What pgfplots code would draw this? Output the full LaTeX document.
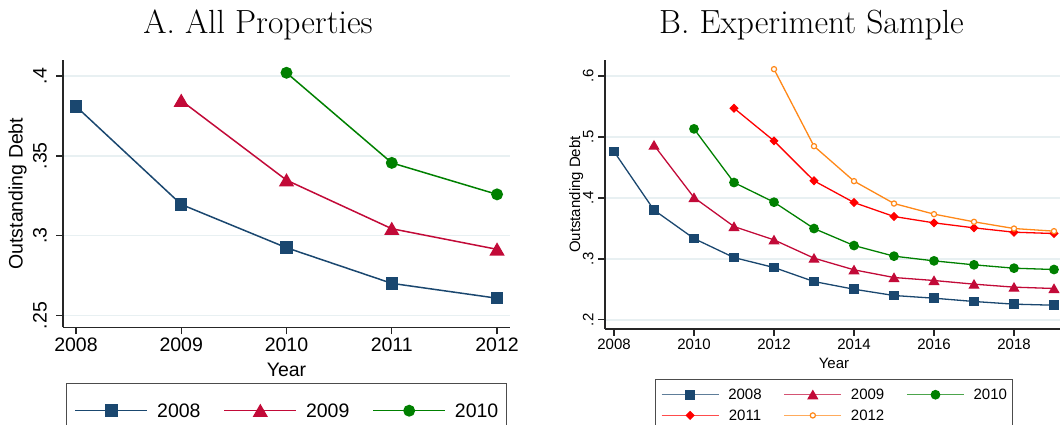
\documentclass[border=0pt]{standalone}
\usepackage{pgfplots}
\pgfplotsset{compat=1.18}
\usepackage{fontspec}
\newfontfamily\arial{Liberation Sans}
\definecolor{snavy}{RGB}{26,71,111}
\definecolor{scran}{RGB}{194,10,56}
\definecolor{sgreen}{RGB}{0,128,0}
\definecolor{sred}{RGB}{255,0,0}
\definecolor{sorange}{RGB}{255,136,24}
\definecolor{gridc}{RGB}{232,240,242}
\newcommand\fA{\arial\fontsize{19.5}{23}\selectfont}
\newcommand\fB{\arial\fontsize{15}{18}\selectfont}
\pgfplotsset{
  stata/.style={
    scale only axis, clip=false,
    axis x line*=bottom, axis y line*=left,
    axis line style={black!85, line width=1.3pt},
    tick align=outside, major tick length=7pt,
    tick style={black!85, line width=1.3pt},
    ymajorgrids, grid style={gridc, line width=1.5pt},
    yticklabel style={rotate=90, anchor=base},
    xticklabel style={anchor=base},
    ylabel style={anchor=base},
    xlabel style={anchor=base},
  }
}
\begin{document}
\begin{tikzpicture}
\useasboundingbox (0,0) rectangle (1060pt,425pt);
\clip (0,0) rectangle (1060pt,425pt);
\node[font=\fontsize{33.5}{40}\selectfont, anchor=base] at (258pt,391.7pt) {A. All Properties};
\node[font=\fontsize{33.5}{40}\selectfont, anchor=base] at (811.5pt,391.7pt) {B. Experiment Sample};

% ---------------- Panel A
\begin{axis}[stata,
  at={(63pt,97.7pt)}, anchor=south west,
  width=447pt, height=267.3pt,
  xmin=2007.877, xmax=2012.123, ymin=0.2427, ymax=0.41,
  xtick={2008,2009,2010,2011,2012},
  xticklabels={2008,2009,2010,2011,2012},
  ytick={0.25,0.3,0.35,0.4},
  yticklabels={.25,.3,.35,.4},
  ticklabel style={font=\fA},
  xticklabel style={yshift=-17.7pt},
  yticklabel style={yshift=9.3pt},
  xlabel={Year}, ylabel={Outstanding Debt},
  label style={font=\fA},
  xlabel style={at={(axis description cs:0.5,-0.1822)}},
  ylabel style={at={(axis description cs:-0.0904,0.5)}},
  legend image code/.code={\draw[#1, mark=none] (0pt,0pt) -- (72pt,0pt); \draw[#1] plot coordinates {(36pt,0pt)};},
  legend style={at={(axis description cs:0.5,-0.2073)}, anchor=north,
    legend columns=3, draw=black!70, line width=1pt,
    inner xsep=8pt, inner ysep=20.7pt, font=\fA,
    nodes={inner sep=0pt, text depth=0pt},
    /tikz/every odd column/.append style={column sep=9pt},
    /tikz/every even column/.append style={column sep=23pt}},
]
\addplot[snavy, line width=1.5pt, mark=square*, mark size=5.5pt, mark options={solid}]
  coordinates {(2008,0.381)(2009,0.3196)(2010,0.2925)(2011,0.2702)(2012,0.2609)};
\addlegendentry{2008}
\addplot[scran, line width=1.5pt, mark=triangle*, mark size=7.3pt, mark options={solid, yshift=-1.8pt}]
  coordinates {(2009,0.3846)(2010,0.3348)(2011,0.3044)(2012,0.2915)};
\addlegendentry{2009}
\addplot[sgreen, line width=1.5pt, mark=*, mark size=5.2pt, mark options={solid}]
  coordinates {(2010,0.402)(2011,0.3456)(2012,0.3259)};
\addlegendentry{2010}
\end{axis}

% ---------------- Panel B
\begin{axis}[stata,
  at={(605pt,96pt)}, anchor=south west,
  width=458pt, height=269pt,
  xmin=2007.775, xmax=2019.225, ymin=0.185, ymax=0.626,
  xtick={2008,2010,2012,2014,2016,2018},
  xticklabels={2008,2010,2012,2014,2016,2018},
  ytick={0.2,0.3,0.4,0.5,0.6},
  yticklabels={.2,.3,.4,.5,.6},
  ticklabel style={font=\fB},
  xticklabel style={yshift=-14pt},
  yticklabel style={yshift=4.7pt},
  xlabel={Year}, ylabel={Outstanding Debt},
  label style={font=\fB},
  xlabel style={at={(axis description cs:0.5,-0.1461)}},
  ylabel style={at={(axis description cs:-0.0541,0.5)}},
  legend image code/.code={\draw[#1, mark=none, opacity=0.7] (0pt,0pt) -- (57pt,0pt); \draw[#1] plot coordinates {(28.5pt,0pt)};},
  legend style={at={(axis description cs:0.5,-0.187)}, anchor=north,
    legend columns=3, draw=black!70, line width=1pt,
    inner xsep=5.3pt, inner ysep=9.7pt, row sep=10.2pt, font=\fB,
    nodes={inner sep=0pt, text depth=0pt},
    /tikz/every odd column/.append style={column sep=9pt},
    /tikz/every even column/.append style={column sep=22pt}},
]
\addplot[snavy, line width=1.3pt, mark=square*, mark size=4.2pt, mark options={solid}]
  coordinates {(2008,0.4759)(2009,0.380)(2010,0.3333)(2011,0.3021)(2012,0.2858)(2013,0.2628)(2014,0.2502)(2015,0.2399)(2016,0.2355)(2017,0.2301)(2018,0.2257)(2019,0.224)};
\addlegendentry{2008}
\addplot[scran, line width=1.3pt, mark=triangle*, mark size=5.2pt, mark options={solid, yshift=-1.3pt}]
  coordinates {(2009,0.4864)(2010,0.4005)(2011,0.353)(2012,0.3311)(2013,0.3011)(2014,0.282)(2015,0.2694)(2016,0.2645)(2017,0.2585)(2018,0.2536)(2019,0.2514)};
\addlegendentry{2009}
\addplot[sgreen, line width=1.3pt, mark=*, mark size=4.2pt, mark options={solid}]
  coordinates {(2010,0.5131)(2011,0.4251)(2012,0.3929)(2013,0.3497)(2014,0.3218)(2015,0.3044)(2016,0.2967)(2017,0.2902)(2018,0.2847)(2019,0.2825)};
\addlegendentry{2010}
\addplot[sred, line width=1.3pt, mark=square*, mark size=2.6pt, mark options={solid, rotate=45}]
  coordinates {(2011,0.547)(2012,0.4934)(2013,0.4279)(2014,0.3923)(2015,0.3694)(2016,0.359)(2017,0.3508)(2018,0.3437)(2019,0.3415)};
\addlegendentry{2011}
\addplot[sorange, line width=1.3pt, mark=*, mark size=2.6pt, mark options={solid, fill=white, line width=1.2pt}]
  coordinates {(2012,0.611)(2013,0.4847)(2014,0.4274)(2015,0.3907)(2016,0.3733)(2017,0.3607)(2018,0.3497)(2019,0.3454)};
\addlegendentry{2012}
\end{axis}
\end{tikzpicture}
\end{document}
